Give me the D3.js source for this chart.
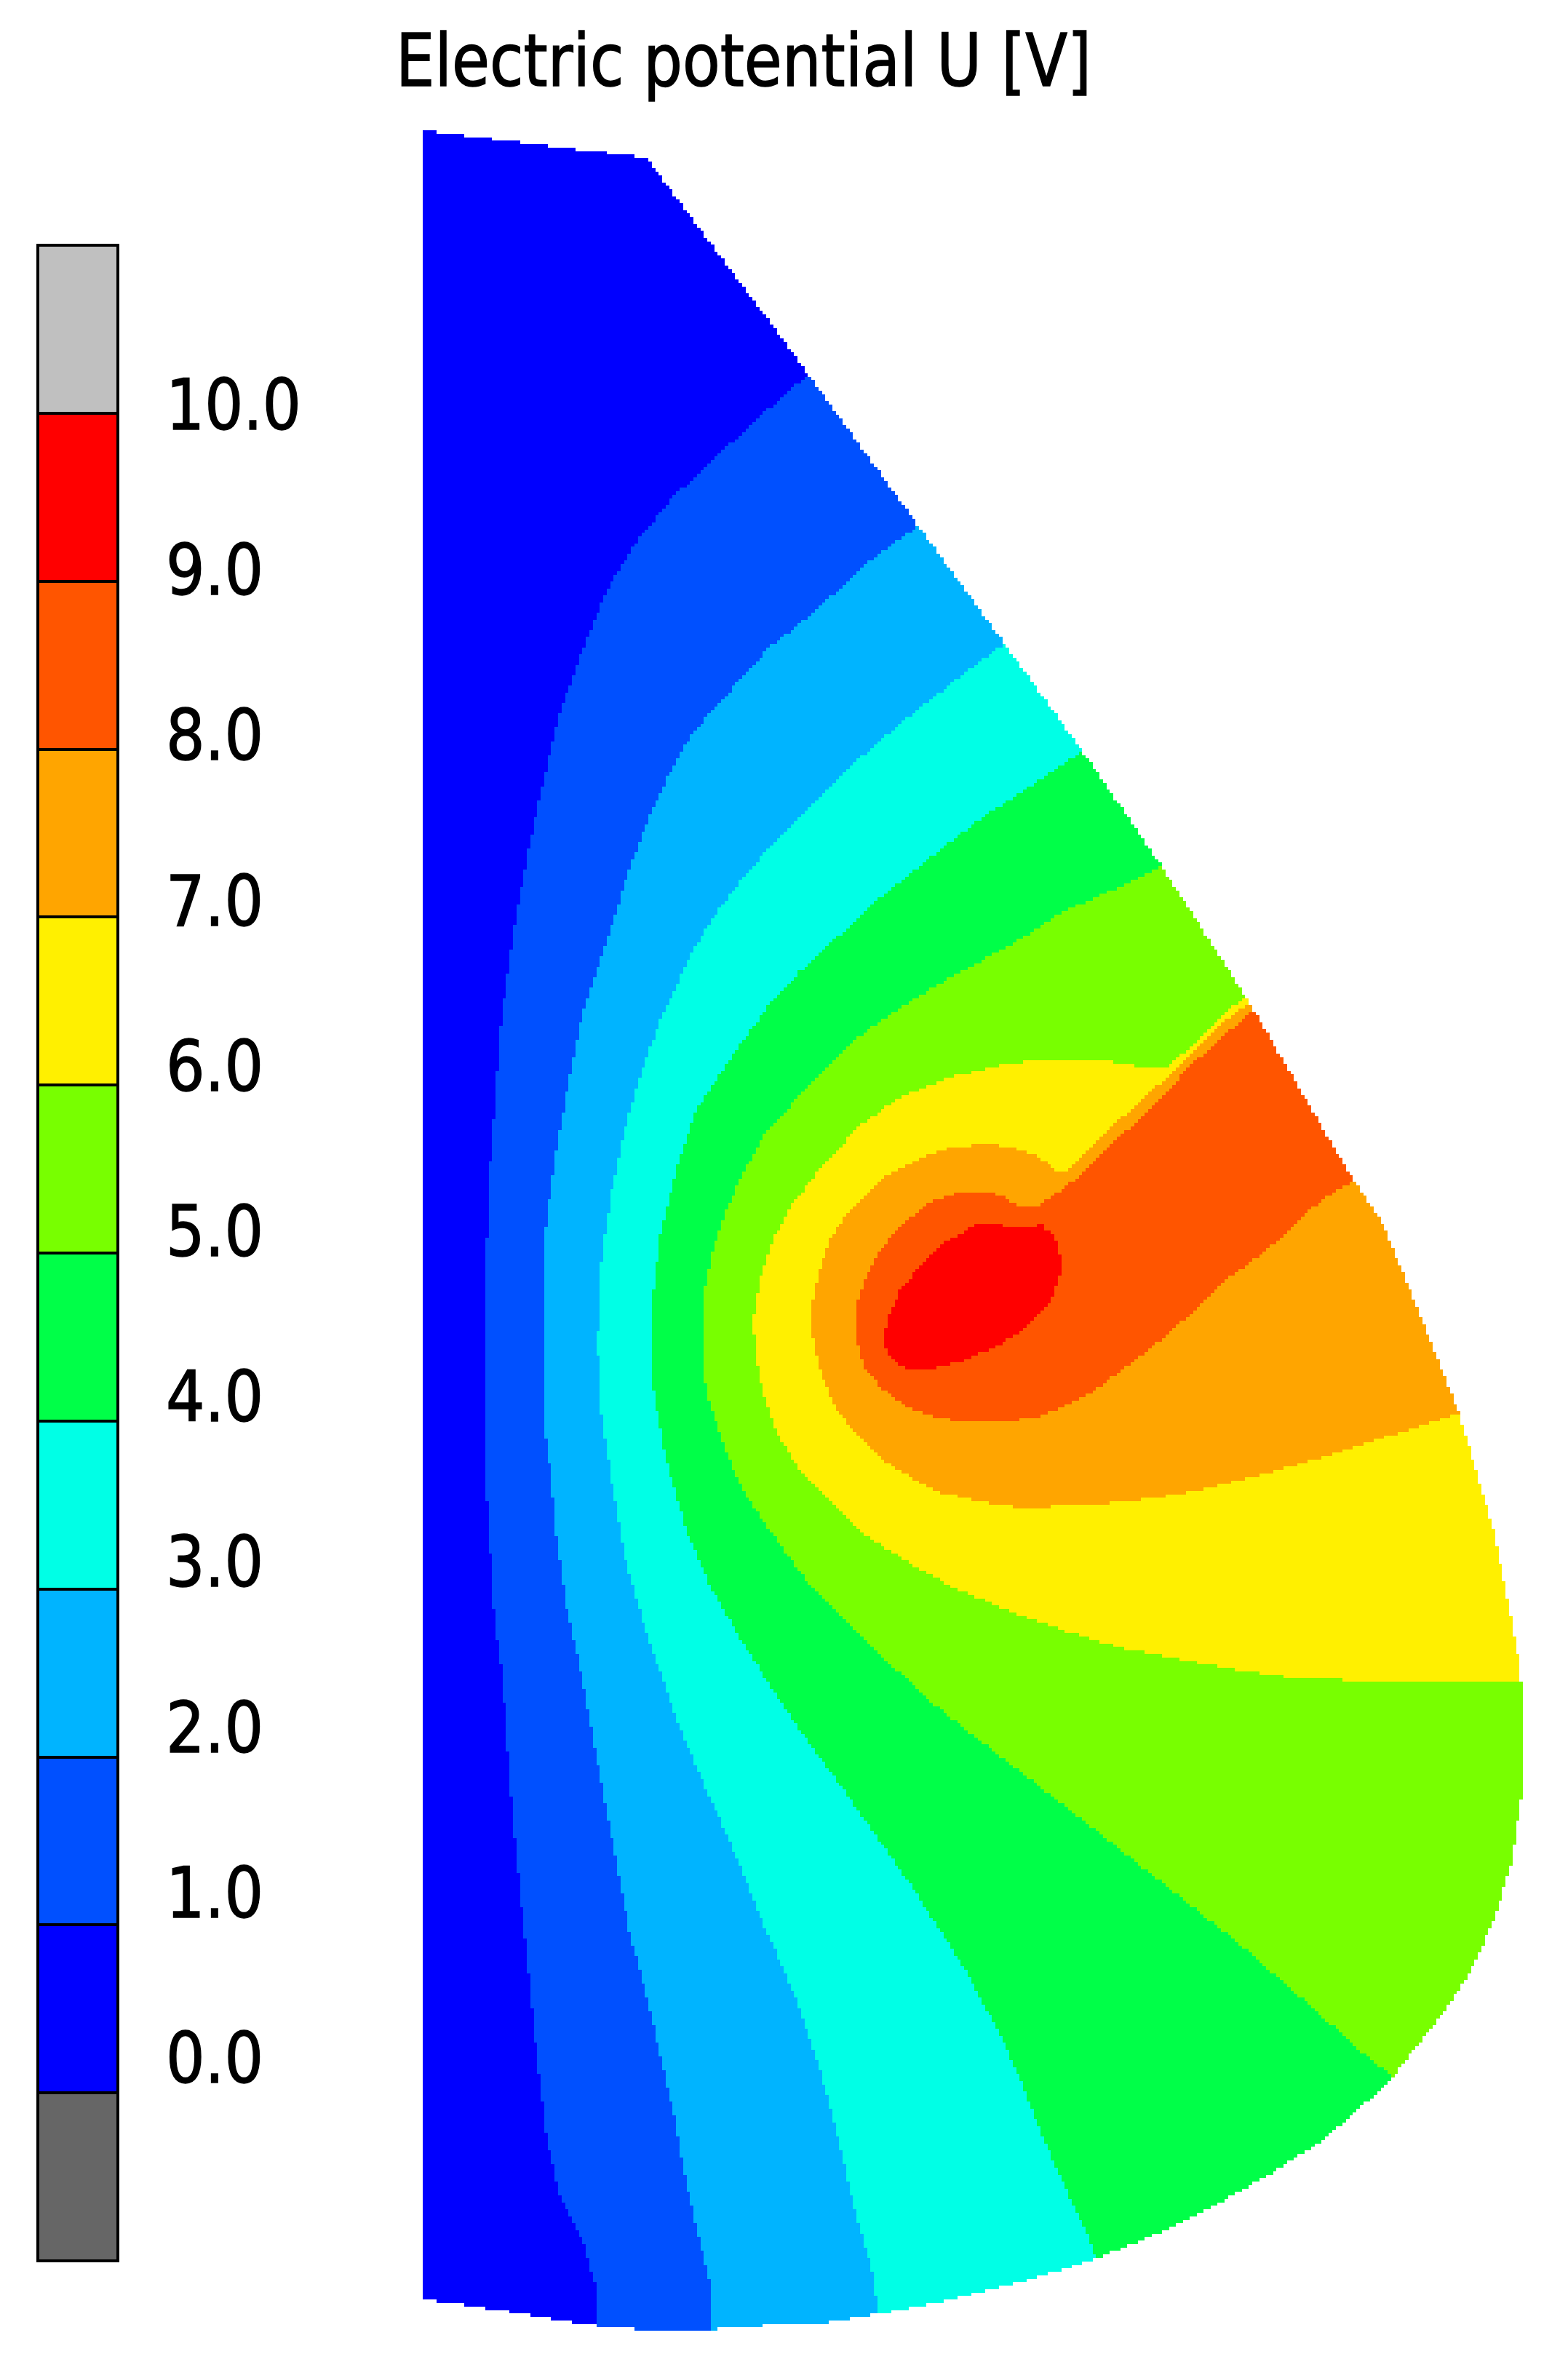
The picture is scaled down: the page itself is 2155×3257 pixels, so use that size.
<!DOCTYPE html>
<html>
<head>
<meta charset="utf-8">
<title>Electric potential U [V]</title>
<script src="https://cdn.jsdelivr.net/npm/d3@7"></script>
<style>
html,body{margin:0;padding:0;background:#fff}
svg{display:block}
text{font-family:"DejaVu Sans",sans-serif;fill:#000;stroke:#000;stroke-width:1.5px}
</style>
</head>
<body>
<div id="chart"></div>
<script>
// Chart content
const chartTitle = "Electric potential U [V]";
const tickValues = [0,1,2,3,4,5,6,7,8,9,10];
const tickLabels = ["0.0","1.0","2.0","3.0","4.0","5.0","6.0","7.0","8.0","9.0","10.0"];
const bandLower  = [-1,0,1,2,3,4,5,6,7,8,9,10];
const bandColors = ["#666666","#0000ff","#0050ff","#00b4ff","#00ffe6","#00ff48","#78ff00","#fff000","#ffa500","#ff5500","#ff0000","#c0c0c0"];
const fieldColors = ["#0000ff","#0050ff","#00b4ff","#00ffe6","#00ff48","#78ff00","#fff000","#ffa500","#ff5500","#ff0000"];

// Domain outline, [r, z]
const outline = [[58.1,17.9],[88.8,21.7],[106.4,45],[126.1,72.1],[138,88.4],[148.8,103.3],[159.5,118.8],[171.5,137.4],[185.5,161.4],[190,168.1],[194.9,180],[200.4,193.7],[205.3,210.4],[208.9,228.7],[209.5,237.9],[209.1,247],[207.7,256.1],[205.3,264],[202.2,270.7],[199.2,275.5],[191.2,285.7],[186.5,290.1],[181.4,294.4],[173.8,299.2],[166.1,303.6],[158.5,307.2],[150.8,310.4],[140.6,313.5],[130.4,316.1],[122,317.8],[112.6,319.3],[107.7,319.4],[98.7,320],[97.8,320.5],[92.2,320.4],[84.1,319.9],[79.9,319.3],[71.3,317.9],[61.4,316.4],[58.1,316.1]];

// Contour lines between neighbouring colour bands
const contour1 = [[112.5,50],[110.8,51.7],[104.6,57.1],[98.3,62.9],[92.5,68.3],[87.6,74.3],[83.6,80.7],[80.2,89],[77,97.9],[74.5,108.1],[72.6,117.1],[71,125.4],[69.7,134.3],[68.9,140],[68,152.1],[67.2,162.3],[66.6,179.5],[66.6,201.9],[67.2,210.2],[68,222.9],[69,230],[69.9,242.2],[70.9,254.4],[72.3,267.8],[73.7,281.9],[75.1,293.5],[77,302],[80.2,308.1],[81.8,314.2],[81.8,325.7],[215.5,325.7],[215.5,50]];
const contour2 = [[128.5,70],[126.1,72.3],[119.8,76.9],[112.1,83.9],[105.7,89],[99.4,96],[94.9,101.1],[91.7,106.9],[88.5,113.9],[86,120.9],[84.1,127.3],[82.1,133],[79.9,140],[78,149.6],[76.5,157.9],[75.1,167.4],[74.6,178.3],[74.6,194.2],[75.6,201.9],[76.5,211.4],[78,221.6],[79.9,230],[82.1,242.2],[84.1,252.6],[86.5,265.4],[89.5,277],[92.7,291],[94.1,299],[95.9,306.9],[97.5,313.6],[97.8,325.7],[215.5,325.7],[215.5,70]];
const contour3 = [[141,86],[138,88.4],[131.3,93.5],[123.6,99.5],[116.6,105.6],[111.5,110.7],[106.4,115.8],[101.9,120.9],[98.1,126],[94.9,131.1],[92.4,136.8],[90.8,140],[88.2,147],[86,154.7],[84.1,163.6],[82.7,172.5],[82.1,184.6],[82.7,194.8],[84.1,203.8],[86,214.6],[88.8,224.2],[90.8,230],[93.6,237.9],[96.8,245.3],[100.6,253.8],[105.1,264.8],[109.6,275.2],[112.8,284.9],[115.3,294.1],[117.2,302.6],[119.8,311.8],[120.7,317.9],[120.7,325.7],[215.5,325.7],[215.5,86]];
const contour4 = [[152,101],[148.8,103.2],[144,106.5],[135.5,112],[128.9,117],[121.2,123.2],[115.1,128.8],[110,133.4],[105.7,138.1],[100.2,145.7],[95.5,152.8],[92.7,161.7],[90.8,169.3],[89.8,177.6],[89.8,191],[91.4,200],[94.3,210.2],[97.5,217.8],[101.9,225.5],[106.4,232.5],[111.5,240],[115.9,245.9],[125.3,259.2],[132.4,270.3],[137.6,279.9],[140.6,286.7],[143.2,293.5],[146.2,300.2],[148.8,305.5],[150.6,310.1],[150.6,325.7],[215.5,325.7],[215.5,101]];
const contour5 = [[163,117],[159.4,119.1],[153.4,122.1],[145.7,125.5],[139.1,129.8],[131.9,133.6],[126.3,136.9],[119.2,141.5],[115.1,145.1],[110.2,150.2],[105.1,155.9],[101.9,161.7],[99.4,167.4],[97.8,172.5],[96.5,179.5],[96.5,187.2],[97.5,192.9],[99.7,199.3],[101.9,204.4],[105.7,210.2],[110.8,217.2],[116.6,222.9],[123,229.3],[129.3,235],[135.7,240],[145.6,247.6],[154.1,254.3],[162.6,261],[170.3,267.1],[178.9,274.6],[186.5,281.4],[190,284.3],[196,289.8],[215.5,289.8],[215.5,117]];
const contour6 = [[215.5,231.2],[209.1,231.2],[194.9,231.2],[178.8,230.7],[170.5,229.6],[162.6,228.1],[154.7,226.6],[147.4,224.5],[139.5,221.7],[132.2,218.7],[126.1,215.6],[117.9,210.2],[110.2,202.5],[107,197.4],[105.1,192.3],[104,187.2],[103.5,181.5],[104.5,175.7],[106.4,170],[108.9,165.5],[112.8,160.4],[118.2,154.7],[123.6,150.8],[130.6,148],[138.6,146.2],[143.4,145.7],[151.3,145.7],[156.4,146.5],[160.3,146.9],[170.7,137.2],[172.5,135.5],[215.5,135.5]];
const contour7 = [[215.5,193],[200.4,194.3],[194.9,196.1],[188.8,198],[183.3,199.8],[177.2,201.6],[170.5,203.4],[163.8,205],[158.4,205.9],[150.4,206.8],[140.1,207.2],[135.7,206.5],[128.6,205],[122.4,201.4],[117.3,196.8],[114.8,193.3],[112.8,188.7],[111.7,183.6],[111.6,179.5],[112.5,174.9],[114.3,169.8],[117.3,165.7],[121.9,161.6],[126.5,159.1],[130.6,157.8],[135.7,157.1],[139.3,157.8],[142.3,158.8],[144.4,160.1],[145.3,161.2],[146.2,161.2],[150.8,156.8],[155.9,152],[161.5,147.1],[167.1,141.5],[170.2,138.7],[171.7,138],[174,136],[215.5,136]];
const contour8 = [[215.5,159],[188,161],[186.3,162.2],[183.5,163.7],[180.4,166],[176.5,169.8],[172.4,173.1],[168.4,175.9],[164.8,179.5],[160.2,183.6],[156.1,186.9],[151,190.7],[145.9,193.5],[142.3,194.8],[138.5,195.4],[132.4,195.4],[129.1,194.9],[124.5,193.3],[120.9,190.5],[118.6,187.7],[117.8,184.1],[117.8,179.2],[119.1,175.4],[120.9,171.8],[124,168.3],[127.8,165.2],[132.4,163.7],[135.7,163.7],[138.5,164.7],[140.1,166],[142.3,166],[145.4,163.9],[148,161.9],[153.1,157],[158.7,151.7],[163.8,146.3],[168.9,141.7],[172.2,138.9],[175,136.5],[215.5,136.5]];
const contour9 = [[143.1,168],[143.6,168.8],[144.6,169.5],[145.2,170.8],[145.7,172.9],[145.7,174.9],[144.6,178.5],[142.9,180.5],[140.3,183.1],[136.7,185.1],[132.7,186.9],[129.1,187.9],[125.3,188.3],[123.5,187.4],[121.9,185.9],[121.5,183.6],[122.2,180.8],[123.7,177.4],[126,174.4],[129.6,170.8],[132.4,169.3],[134.3,168],[137.2,168],[138.3,168.8],[141.8,168.8]];

const levelContours = [outline, contour1, contour2, contour3, contour4, contour5, contour6, contour7, contour8, contour9];

// Scales
const W = 2155, H = 3257;
const x = d3.scaleLinear().domain([0, 215.5]).range([0, W]);
const y = d3.scaleLinear().domain([0, 325.7]).range([0, H]);
const bandY = d3.scaleLinear().domain([-1, 11]).range([3107, 337]);
const labelY = d3.scaleLinear().domain([0, 10]).range([2862, 590]);

const svg = d3.select("#chart").append("svg")
  .attr("width", W).attr("height", H).attr("viewBox", [0,0,W,H]);
svg.append("rect").attr("width", W).attr("height", H).attr("fill", "#fff");

// Title
svg.append("text").attr("x", 544).attr("y", 118)
  .attr("font-size", 100).attr("textLength", 956).attr("lengthAdjust", "spacingAndGlyphs")
  .text(chartTitle);

// Colour bar
const bar = svg.append("g");
bar.selectAll("rect").data(bandLower).join("rect")
  .attr("x", 52).attr("width", 110)
  .attr("y", d => bandY(d + 1))
  .attr("height", d => bandY(d) - bandY(d + 1))
  .attr("fill", (d, i) => bandColors[i])
  .attr("stroke", "#000").attr("stroke-width", 4)
  .attr("shape-rendering", "crispEdges");

svg.append("g").selectAll("text").data(tickValues).join("text")
  .attr("x", (d, i) => tickLabels[i].length > 3 ? 228 : 228)
  .attr("y", d => labelY(d))
  .attr("font-size", 96)
  .attr("textLength", (d, i) => tickLabels[i].length > 3 ? 186 : 134)
  .attr("lengthAdjust", "spacingAndGlyphs")
  .text((d, i) => tickLabels[i]);

// Filled potential map: a coarse raster like the solver's output, one rect per colour run
const cell = 0.477;
const boxes = levelContours.map(p => [d3.extent(p, d => d[0]), d3.extent(p, d => d[1])]);
function levelAt(r, z) {
  for (let k = levelContours.length - 1; k >= 0; k--) {
    const b = boxes[k];
    if (r < b[0][0] || r > b[0][1] || z < b[1][0] || z > b[1][1]) continue;
    if (d3.polygonContains(levelContours[k], [r, z])) {
      if (k > 0) return d3.polygonContains(outline, [r, z]) ? k : -1;
      return 0;
    }
  }
  return -1;
}
const runs = [];
const [rMin, rMax] = d3.extent(outline, d => d[0]);
const [zMin, zMax] = d3.extent(outline, d => d[1]);
for (let i = 0; zMin + i * cell < zMax; i++) {
  const z = zMin + (i + 0.5) * cell;
  let cur = -1, start = 0;
  for (let j = 0; ; j++) {
    const r = rMin + (j + 0.5) * cell;
    const lv = r > rMax ? -1 : levelAt(r, z);
    if (lv !== cur) {
      if (cur >= 0) runs.push({row: i, from: start, to: j, level: cur});
      cur = lv; start = j;
    }
    if (r > rMax) break;
  }
}
const X = j => Math.round(x(rMin + j * cell));
const Y = i => Math.round(y(zMin + i * cell));
svg.append("g").attr("shape-rendering", "crispEdges")
  .selectAll("rect").data(runs).join("rect")
  .attr("x", d => X(d.from))
  .attr("width", d => X(d.to) - X(d.from))
  .attr("y", d => Y(d.row))
  .attr("height", d => Y(d.row + 1) - Y(d.row))
  .attr("fill", d => fieldColors[d.level]);
</script>
</body>
</html>
